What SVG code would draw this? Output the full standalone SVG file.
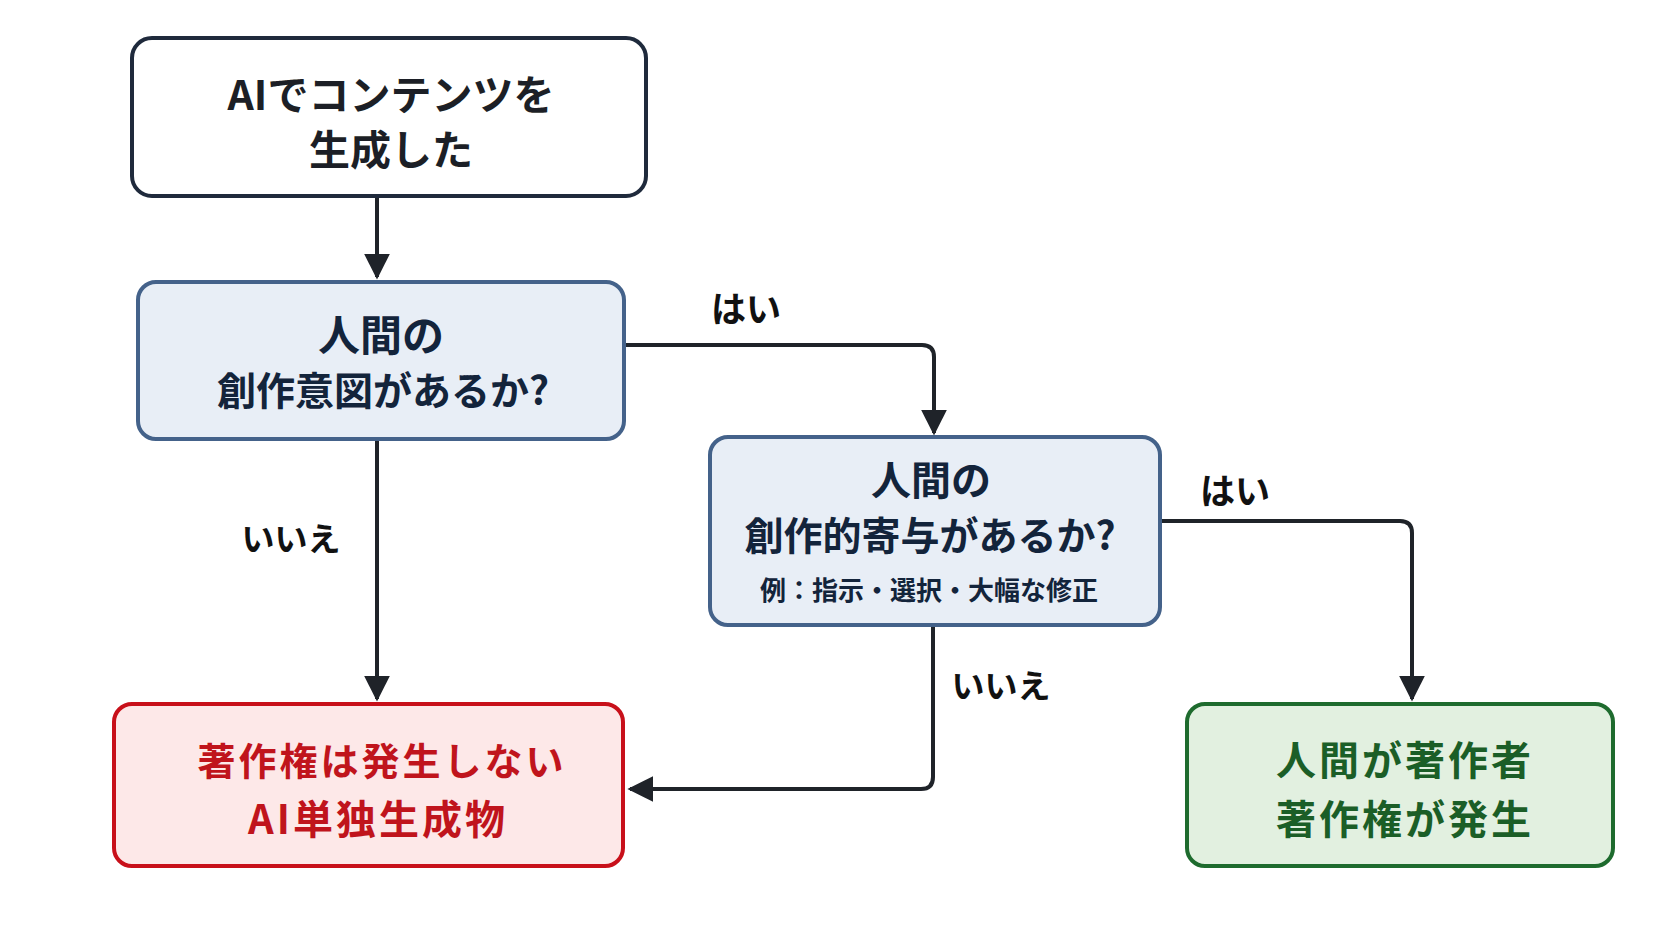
<svg xmlns="http://www.w3.org/2000/svg" width="1672" height="941" viewBox="0 0 1672 941">
<defs>
<marker id="arr" viewBox="0 0 10 10" refX="9" refY="5" markerWidth="6.5" markerHeight="6.5" markerUnits="strokeWidth" orient="auto">
<path d="M0,0 L10,5 L0,10 z" fill="#1f2329"/>
</marker>
</defs>
<style>
text{font-family:"Noto Sans CJK JP","Noto Sans",sans-serif;font-weight:700;text-anchor:middle;dominant-baseline:central}
.start rect{fill:#ffffff;stroke:#1f2a3c;stroke-width:4}
.q rect{fill:#e8eef6;stroke:#44628a;stroke-width:4}
.no rect{fill:#fde8e8;stroke:#c8101a;stroke-width:4}
.yes rect{fill:#e2f0e0;stroke:#1e6b2e;stroke-width:4}
.start text{fill:#1c1f26;font-size:41px}
.q text{fill:#13243b;font-size:39px}
.q text.big{font-size:42px}
.q text.mid{font-size:40px}
.q text.small{font-size:26px}
.no text{fill:#c0141c;font-size:38px;letter-spacing:3px}
.no text.l2{font-size:40px;letter-spacing:3px}
.yes text{fill:#1b5e27;font-size:40px;letter-spacing:3px}
.lbl{fill:#111;font-size:33px}
.lbl.h{font-size:35px}
#connectors path{fill:none;stroke:#1f2329;stroke-width:4;stroke-linejoin:round;marker-end:url(#arr)}
</style>
<rect width="1672" height="941" fill="#ffffff"/>
<g id="connectors">
<path d="M377,196 L377,277"/>
<path d="M624,345 L922,345 Q934,345 934,357 L934,433"/>
<path d="M377,439 L377,699"/>
<path d="M1160,521 L1400,521 Q1412,521 1412,533 L1412,699"/>
<path d="M933,625 L933,777 Q933,789 921,789 L630,789"/>
<text class="lbl h" x="746" y="306">はい</text>
<text class="lbl h" x="1235" y="488">はい</text>
<text class="lbl" x="291" y="537">いいえ</text>
<text class="lbl" x="1001" y="684">いいえ</text>
</g>
<g id="start" class="start">
<rect x="132" y="38" width="514" height="158" rx="20"/>
<text x="391" y="92">AIでコンテンツを</text>
<text x="391" y="147">生成した</text>
</g>
<g id="q1" class="q">
<rect x="138" y="282" width="486" height="157" rx="18"/>
<text class="big" x="381" y="332">人間の</text>
<text x="383" y="388">創作意図があるか?</text>
</g>
<g id="q2" class="q">
<rect x="710" y="437" width="450" height="188" rx="18"/>
<text class="mid" x="931" y="478">人間の</text>
<text x="930" y="533">創作的寄与があるか?</text>
<text class="small" x="929" y="588">例：指示・選択・大幅な修正</text>
</g>
<g id="no" class="no">
<rect x="114" y="704" width="509" height="162" rx="18"/>
<text x="382" y="758">著作権は発生しない</text>
<text class="l2" x="378" y="817">AI単独生成物</text>
</g>
<g id="yes" class="yes">
<rect x="1187" y="704" width="426" height="162" rx="18"/>
<text x="1405" y="758">人間が著作者</text>
<text x="1405" y="817">著作権が発生</text>
</g>
</svg>
